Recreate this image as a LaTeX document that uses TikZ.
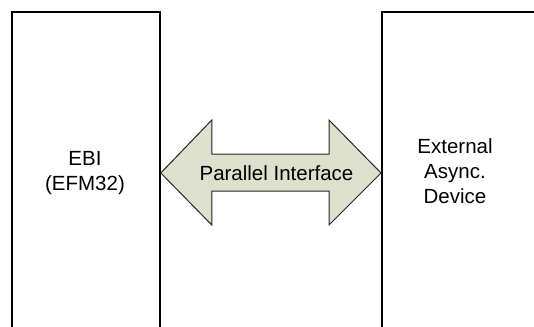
\documentclass[tikz,border=0pt]{standalone}
\usepackage{fontspec}
\setmainfont{Liberation Sans}
\usetikzlibrary{calc}
\definecolor{arrowfill}{RGB}{220,224,204}
\begin{document}
\begin{tikzpicture}[x=1pt,y=-1pt,
  blockbox/.style={draw=black, line width=1.8pt, inner sep=0pt, anchor=north west},
  label/.style={font=\fontsize{20.5}{25}\selectfont, align=center, inner sep=0pt},
  arrowshape/.style={draw=black!85, line width=1pt, fill=arrowfill, line join=miter}]
\useasboundingbox (0,0) rectangle (534,326);
\clip (0,0) rectangle (534,326);
\node[blockbox, minimum width=148pt, minimum height=340pt] (ebi) at (11,11) {};
\node[blockbox, minimum width=200pt, minimum height=340pt] (dev) at (381,11) {};
\node[label] (ebitext) at (85,173.5) {EBI\\(EFM32)};
\node[label] (devtext) at (455,171) {External\\Async.\\Device};
\coordinate (L) at (ebi.east |- 0,173);
\coordinate (R) at (dev.west |- 0,173);
\draw[arrowshape] (L) -- ($(L)+(51,-53)$) -- ($(L)+(51,-19)$) -- ($(R)+(-52,-19)$) -- ($(R)+(-52,-53)$) -- (R)
  -- ($(R)+(-52,52)$) -- ($(R)+(-52,18)$) -- ($(L)+(51,18)$) -- ($(L)+(51,52)$) -- cycle;
\node[label] (pitext) at (276.5,173) {Parallel Interface};
\end{tikzpicture}
\end{document}
